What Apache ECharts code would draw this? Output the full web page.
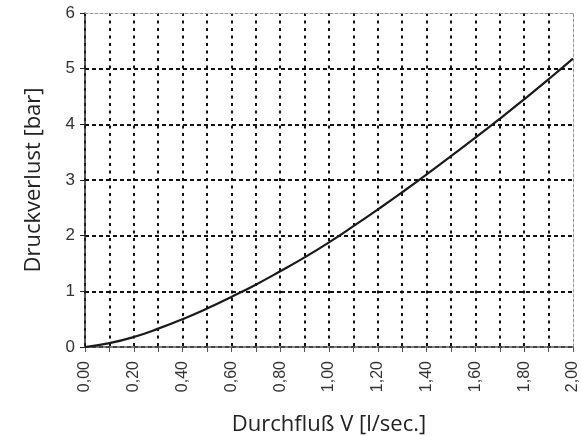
<!DOCTYPE html>
<html>
<head>
<meta charset="utf-8">
<script src="https://cdn.jsdelivr.net/npm/echarts@6/dist/echarts.min.js"></script>
<style>
  html, body { margin: 0; padding: 0; background: #fff; }
  #main { width: 581px; height: 436px; }
</style>
</head>
<body>
<div id="main"></div>
<script>
// Durchfluss in l/sec
var flow = [0, 0.1, 0.2, 0.3, 0.4, 0.5, 0.6, 0.7, 0.8, 0.9, 1.0,
            1.1, 1.2, 1.3, 1.4, 1.5, 1.6, 1.7, 1.8, 1.9, 2.0];
// Druckverlust in bar
var pressure = [0, 0.07, 0.18, 0.33, 0.50, 0.69, 0.90, 1.12, 1.36, 1.61, 1.88,
                2.17, 2.47, 2.78, 3.10, 3.43, 3.76, 4.10, 4.45, 4.81, 5.18];

(function(){
    var myChart = echarts.init(document.getElementById('main'));

    var points = [];
    for (var i = 0; i < flow.length; i++) {
        points.push([flow[i], pressure[i]]);
    }

    var option = {
        animation: false,
        grid: {
            left: 85,
            right: 8,
            top: 13,
            bottom: 89,
            containLabel: false,
            outerBoundsMode: 'none'
        },
        xAxis: [
            {
                type: 'value',
                min: 0,
                max: 2,
                interval: 0.1,
                name: 'Durchfluß V [l/sec.]',
                nameLocation: 'middle',
                nameGap: 67,
                nameTextStyle: { fontFamily: 'Open Sans', fontSize: 22, color: '#222' },
                axisLine: { lineStyle: { color: '#555', width: 1.5 } },
                axisTick: { show: true, length: 5, lineStyle: { color: '#555' } },
                axisLabel: {
                    rotate: 90,
                    margin: 14,
                    fontFamily: 'Liberation Sans',
                    fontSize: 16,
                    color: '#333',
                    formatter: function (v) {
                        if (Math.round(v * 10) % 2 !== 0) return '';
                        return v.toFixed(2).replace('.', ',');
                    }
                },
                splitLine: {
                    show: true,
                    showMaxLine: false,
                    lineStyle: { color: '#111', width: 2, type: [3, 4.5] }
                }
            },
            {
                type: 'value',
                position: 'top',
                min: 0,
                max: 2,
                axisLine: { show: true, onZero: false, lineStyle: { color: '#999', width: 1, type: [3, 2] } },
                axisTick: { show: false },
                axisLabel: { show: false },
                splitLine: { show: false }
            }
        ],
        yAxis: [
            {
                type: 'value',
                min: 0,
                max: 6,
                interval: 1,
                name: 'Druckverlust [bar]',
                nameLocation: 'middle',
                nameGap: 40,
                nameTextStyle: { fontFamily: 'Open Sans', fontSize: 22, color: '#222' },
                axisLine: { show: true, lineStyle: { color: '#222', width: 1.5 } },
                axisTick: { show: true, length: 5, lineStyle: { color: '#222' } },
                axisLabel: { fontFamily: 'Liberation Sans', fontSize: 17, color: '#333', margin: 10 },
                splitLine: {
                    show: true,
                    showMaxLine: false,
                    lineStyle: { color: '#111', width: 2, type: [4, 3] }
                }
            },
            {
                type: 'value',
                position: 'right',
                min: 0,
                max: 6,
                axisLine: { show: true, onZero: false, lineStyle: { color: '#999', width: 1, type: [3, 2] } },
                axisTick: { show: false },
                axisLabel: { show: false },
                splitLine: { show: false }
            }
        ],
        series: [
            {
                name: 'Druckverlust',
                type: 'line',
                smooth: true,
                symbol: 'none',
                lineStyle: { color: '#1a1a1a', width: 2.2 },
                data: points
            }
        ]
    };
    myChart.setOption(option);
})();
</script>
</body>
</html>
